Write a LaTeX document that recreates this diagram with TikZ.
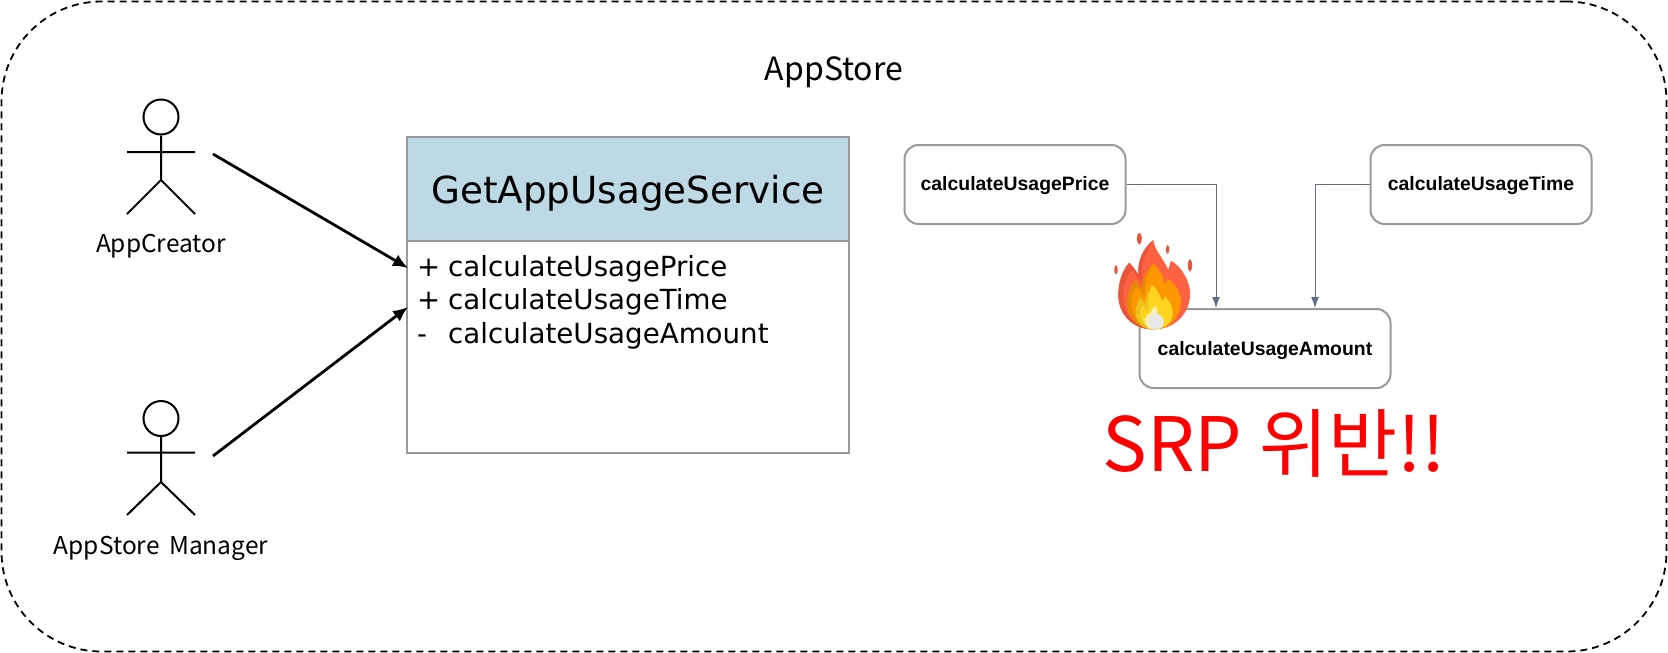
\documentclass[tikz,border=0pt]{standalone}
\usepackage{fontspec}
\setmainfont{Noto Sans CJK KR}
\newfontfamily\dejavu{DejaVu Sans}
\newfontfamily\libsans{Liberation Sans}
\usetikzlibrary{arrows.meta}
\definecolor{hdr}{HTML}{BDD9E6}
\definecolor{edge}{HTML}{999999}
\definecolor{flowline}{HTML}{5F6E83}
\definecolor{flameA}{HTML}{FF6243}
\definecolor{flameB}{HTML}{E8553A}
\definecolor{flameC}{HTML}{FF9800}
\definecolor{flameD}{HTML}{E68A00}
\definecolor{flameE}{HTML}{FFD522}
\definecolor{flameF}{HTML}{EDC21C}
\definecolor{flameG}{HTML}{E8E8E8}
\definecolor{flameH}{HTML}{FFF0AD}
\tikzset{
  actor/.style={line width=2pt,black},
  actorlabel/.style={font=\fontsize{24.5}{28}\selectfont,inner sep=0pt,anchor=center},
  assoc/.style={line width=2.8pt,-{Latex[length=15pt,width=13pt]}},
  funcbox/.style={draw=edge,line width=2pt,rounded corners=14pt,fill=white,inner sep=0pt},
  funclabel/.style={font=\libsans\bfseries\fontsize{19.4}{22}\selectfont,inner sep=0pt},
  flow/.style={draw=flowline,line width=1pt,-{Latex[length=11pt,width=8pt]}},
}
\begin{document}
\begin{tikzpicture}[x=1pt,y=-1pt]
\useasboundingbox (0,0) rectangle (1668,653);
\node[draw=black,line width=1.8pt,rounded corners=100pt,minimum width=1665pt,minimum height=650pt,inner sep=0pt,dash pattern=on 7pt off 5pt] (outer) at (834,326.5) {};
\node[font=\fontsize{32}{36}\selectfont,inner sep=0pt] (title) at (834,72) {AppStore};

% actor 1
\node[draw=black,line width=2pt,circle,minimum size=35pt,inner sep=0pt] (head1) at (161,117) {};
\coordinate (hip1) at (161,180);
\coordinate (arml1) at (127,152);
\coordinate (armr1) at (195,152);
\coordinate (legl1) at (127,214);
\coordinate (legr1) at (195,214);
\draw[actor] (head1.south) -- (hip1) (arml1) -- (armr1) (legl1) -- (hip1) -- (legr1);
\node[actorlabel] (creator) at (161,246) {AppCreator};
% actor 2
\node[draw=black,line width=2pt,circle,minimum size=35pt,inner sep=0pt] (head2) at (161,418.5) {};
\coordinate (hip2) at (161,482);
\coordinate (arml2) at (127,452.5);
\coordinate (armr2) at (195,452.5);
\coordinate (legl2) at (127,515);
\coordinate (legr2) at (195,515);
\draw[actor] (head2.south) -- (hip2) (arml2) -- (armr2) (legl2) -- (hip2) -- (legr2);
\node[actorlabel] (manager) at (161,548) {AppStore\hspace{4pt} Manager};

% class
\node[draw=edge,line width=2pt,fill=hdr,minimum width=442pt,minimum height=104pt,inner sep=0pt] (hdrbox) at (628,188.5) {};
\node[font=\dejavu\fontsize{37.3}{42}\selectfont,inner sep=0pt] (hdrtext) at (628,193) {GetAppUsageService};
\node[draw=edge,line width=2pt,fill=white,minimum width=442pt,minimum height=212pt,inner sep=0pt] (bodybox) at (628,346.5) {};
\foreach \n/\s/\t/\yy in {a/+/calculateUsagePrice/267,b/+/calculateUsageTime/300,c/-/calculateUsageAmount/334}{
  \node[font=\dejavu\fontsize{27.6}{30}\selectfont,inner sep=0pt,anchor=base west] (sym\n) at (417,\yy+9) {\s};
  \node[font=\dejavu\fontsize{27.7}{30}\selectfont,inner sep=0pt,anchor=base west] (attr\n) at (448,\yy+9) {\t};
}
\coordinate (s1) at (213,154);
\coordinate (s2) at (213,456);
\coordinate (e1) at (408,268);
\coordinate (e2) at (408,307);
\draw[assoc] (s1) -- (e1);
\draw[assoc] (s2) -- (e2);

% function boxes
\node[funcbox,minimum width=221pt,minimum height=79pt] (price) at (1015,184.5) {};
\node[funclabel] at (1015,186) {calculateUsagePrice};
\node[funcbox,minimum width=221pt,minimum height=79pt] (time) at (1481,184.5) {};
\node[funclabel] at (1481,186) {calculateUsageTime};
\node[funcbox,minimum width=251pt,minimum height=79pt] (amount) at (1265,348.5) {};
\node[funclabel] at (1265,351) {calculateUsageAmount};
\draw[flow] (price.east) -- (1216,0 |- price.east) -- (1216,0 |- amount.north);
\draw[flow] (time.west) -- (1315,0 |- time.west) -- (1315,0 |- amount.north);

% flame
\begin{scope}[shift={(1090,220)},x=0.3333pt,y=-0.3333pt]
\fill[flameB] (148,38) .. controls (138,42) and (138,68) .. (148,74) .. controls (158,68) and (158,42) .. (148,38)
 (233,74) .. controls (226,82) and (226,96) .. (233,102) .. controls (240,96) and (240,82) .. (233,74)
 (300,116) .. controls (291,126) and (291,146) .. (300,156) .. controls (309,146) and (309,126) .. (300,116)
 (78,134) .. controls (71,144) and (71,156) .. (78,164) .. controls (85,156) and (85,144) .. (78,134);
\fill[flameA] (190,60) .. controls (196,95) and (220,115) .. (235,150) .. controls (238,140) and (240,130) .. (243,122)
  .. controls (275,140) and (302,185) .. (300,225) .. controls (298,285) and (250,328) .. (192,328)
  .. controls (130,328) and (85,285) .. (85,225) .. controls (85,185) and (98,150) .. (118,128)
  .. controls (128,140) and (138,150) .. (145,165) .. controls (142,120) and (160,85) .. (190,60) -- cycle;
\fill[flameB] (190,60) .. controls (160,85) and (142,120) .. (145,165) .. controls (138,150) and (128,140) .. (118,128)
  .. controls (98,150) and (85,185) .. (85,225) .. controls (85,285) and (130,328) .. (185,328)
  .. controls (135,320) and (100,285) .. (100,225) .. controls (100,195) and (110,165) .. (125,150)
  .. controls (135,160) and (145,175) .. (155,190) .. controls (150,140) and (165,100) .. (190,60) -- cycle;
\fill[flameC] (190,132) .. controls (215,150) and (222,180) .. (226,195) .. controls (229,188) and (231,182) .. (233,176)
  .. controls (258,190) and (274,225) .. (273,250) .. controls (270,295) and (235,328) .. (192,328)
  .. controls (150,328) and (112,295) .. (112,250) .. controls (112,225) and (122,195) .. (136,180)
  .. controls (144,190) and (150,198) .. (156,208) .. controls (156,180) and (170,150) .. (190,132) -- cycle;
\fill[flameD] (190,132) .. controls (170,150) and (156,180) .. (156,208) .. controls (150,198) and (144,190) .. (136,180)
  .. controls (122,195) and (112,225) .. (112,250) .. controls (112,295) and (150,328) .. (186,328)
  .. controls (150,318) and (124,290) .. (124,250) .. controls (124,230) and (130,212) .. (140,200)
  .. controls (148,208) and (155,218) .. (164,232) .. controls (162,195) and (172,160) .. (190,132) -- cycle;
\fill[flameE] (186,195) .. controls (205,210) and (212,228) .. (216,245) .. controls (220,240) and (222,236) .. (226,230)
  .. controls (245,250) and (250,272) .. (248,288) .. controls (242,315) and (218,328) .. (192,328)
  .. controls (165,328) and (142,312) .. (138,285) .. controls (136,270) and (142,250) .. (150,232)
  .. controls (156,240) and (162,248) .. (166,256) .. controls (166,235) and (174,212) .. (186,195) -- cycle;
\fill[flameF] (186,195) .. controls (174,212) and (166,235) .. (166,256) .. controls (162,248) and (156,240) .. (150,232)
  .. controls (142,250) and (136,270) .. (138,285) .. controls (142,312) and (165,328) .. (190,328)
  .. controls (165,318) and (150,305) .. (150,282) .. controls (150,270) and (153,260) .. (157,254)
  .. controls (164,262) and (170,270) .. (174,280) .. controls (172,250) and (176,222) .. (186,195) -- cycle;
\fill[flameH] (198,256) .. controls (188,264) and (182,272) .. (180,280) .. controls (172,282) and (164,290) .. (164,302)
  .. controls (164,318) and (176,328) .. (192,328) -- (205,290) -- cycle;
\fill[flameG] (198,268) .. controls (200,280) and (204,288) .. (210,284) .. controls (220,295) and (224,305) .. (220,313)
  .. controls (216,323) and (206,328) .. (197,328) .. controls (186,328) and (176,318) .. (176,305)
  .. controls (176,295) and (180,288) .. (185,284) .. controls (190,290) and (194,280) .. (198,268) -- cycle;
\end{scope}

\node[font=\fontsize{75}{90}\selectfont,text=red,inner sep=0pt] (srp) at (1274,443) {SRP 위반!!};
\end{tikzpicture}
\end{document}
